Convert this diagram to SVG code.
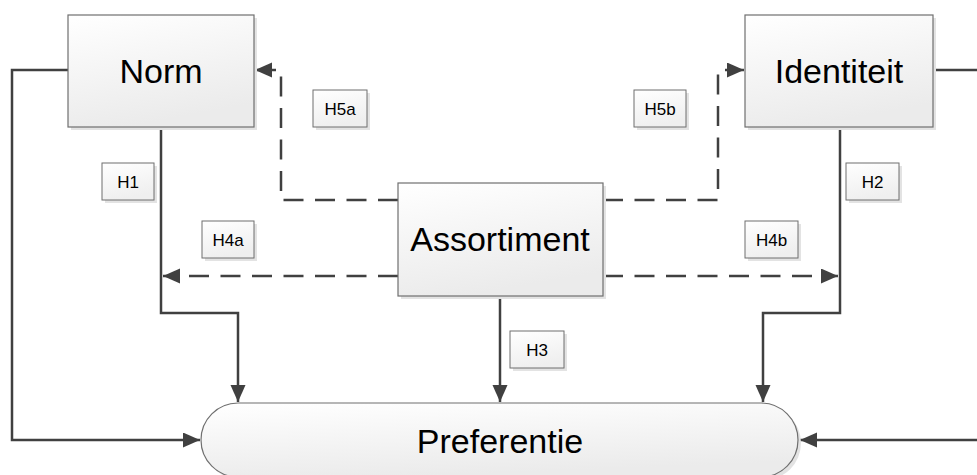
<svg xmlns="http://www.w3.org/2000/svg" width="977" height="475" viewBox="0 0 977 475">
<style>
.box{fill:url(#g);stroke:#6f6f6f;stroke-width:1.2}
.shadow{fill:#e3e3e3}
.lbl{fill:url(#g2);stroke:#6f6f6f;stroke-width:1}
.big{font-family:"Liberation Sans",Arial,sans-serif;font-size:34px;fill:#000;text-anchor:middle}
.sm{font-family:"Liberation Sans",Arial,sans-serif;font-size:17px;fill:#000;text-anchor:middle}
.ln{fill:none;stroke:#404040;stroke-width:2.5}
.dash{stroke-dasharray:20 11.5}
</style>
<defs>
<linearGradient id="g" x1="0" y1="0" x2="0.3" y2="1">
<stop offset="0" stop-color="#ffffff"/>
<stop offset="1" stop-color="#ebebeb"/>
</linearGradient>
<linearGradient id="g2" x1="0" y1="0" x2="0.3" y2="1">
<stop offset="0" stop-color="#ffffff"/>
<stop offset="1" stop-color="#efefef"/>
</linearGradient>
<marker id="ah" markerUnits="userSpaceOnUse" markerWidth="18" markerHeight="16" refX="17" refY="7.5" orient="auto">
<path d="M0,0 L17,7.5 L0,15 z" fill="#404040"/>
</marker>
</defs>

<g id="connectors">
<path class="ln" d="M68,70 L12,70 L12,440 L200,440" marker-end="url(#ah)"/>
<path class="ln" d="M933,70 L990,70 L990,440 L800,440" marker-end="url(#ah)"/>
<path class="ln" d="M161,127 L161,313 L238,313 L238,402" marker-end="url(#ah)"/>
<path class="ln" d="M840,127 L840,313 L763,313 L763,402" marker-end="url(#ah)"/>
<path class="ln" d="M500,296 L500,402" marker-end="url(#ah)"/>
<path class="ln dash" d="M398,200 L281,200 L281,70 L255,70" marker-end="url(#ah)"/>
<path class="ln dash" d="M603,200 L718,200 L718,70 L744,70" marker-end="url(#ah)"/>
<path class="ln dash" d="M398,276 L163,276" marker-end="url(#ah)"/>
<path class="ln dash" d="M603,276 L838,276" marker-end="url(#ah)"/>
</g>

<g id="norm">
<rect class="shadow" x="71" y="18" width="186" height="112"/>
<rect class="box" x="68" y="15" width="186" height="112"/>
<text class="big" x="161" y="83">Norm</text>
</g>
<g id="identiteit">
<rect class="shadow" x="748" y="18" width="188" height="112"/>
<rect class="box" x="745" y="15" width="188" height="112"/>
<text class="big" x="839" y="83">Identiteit</text>
</g>
<g id="assortiment">
<rect class="shadow" x="401" y="186" width="205" height="113"/>
<rect class="box" x="398" y="183" width="205" height="113"/>
<text class="big" x="500" y="251">Assortiment</text>
</g>
<g id="preferentie">
<rect class="shadow" x="204" y="406" width="597" height="74" rx="37"/>
<rect class="box" x="201" y="403" width="597" height="74" rx="37"/>
<text class="big" x="500" y="453">Preferentie</text>
</g>

<g id="label-H1">
<rect class="shadow" x="105" y="166" width="52" height="37"/>
<rect class="lbl" x="102" y="163" width="52" height="37"/>
<text class="sm" x="128" y="188">H1</text>
</g>
<g id="label-H2">
<rect class="shadow" x="849" y="166" width="53" height="37"/>
<rect class="lbl" x="846" y="163" width="53" height="37"/>
<text class="sm" x="872.5" y="188">H2</text>
</g>
<g id="label-H3">
<rect class="shadow" x="513" y="334" width="54" height="37"/>
<rect class="lbl" x="510" y="331" width="54" height="37"/>
<text class="sm" x="537" y="356">H3</text>
</g>
<g id="label-H4a">
<rect class="shadow" x="205" y="224" width="52" height="37"/>
<rect class="lbl" x="202" y="221" width="52" height="37"/>
<text class="sm" x="228" y="246">H4a</text>
</g>
<g id="label-H4b">
<rect class="shadow" x="748" y="224" width="53" height="37"/>
<rect class="lbl" x="745" y="221" width="53" height="37"/>
<text class="sm" x="771.5" y="246">H4b</text>
</g>
<g id="label-H5a">
<rect class="shadow" x="316" y="93" width="54" height="37"/>
<rect class="lbl" x="313" y="90" width="54" height="37"/>
<text class="sm" x="340" y="115">H5a</text>
</g>
<g id="label-H5b">
<rect class="shadow" x="637" y="93" width="52" height="37"/>
<rect class="lbl" x="634" y="90" width="52" height="37"/>
<text class="sm" x="660" y="115">H5b</text>
</g>
</svg>
